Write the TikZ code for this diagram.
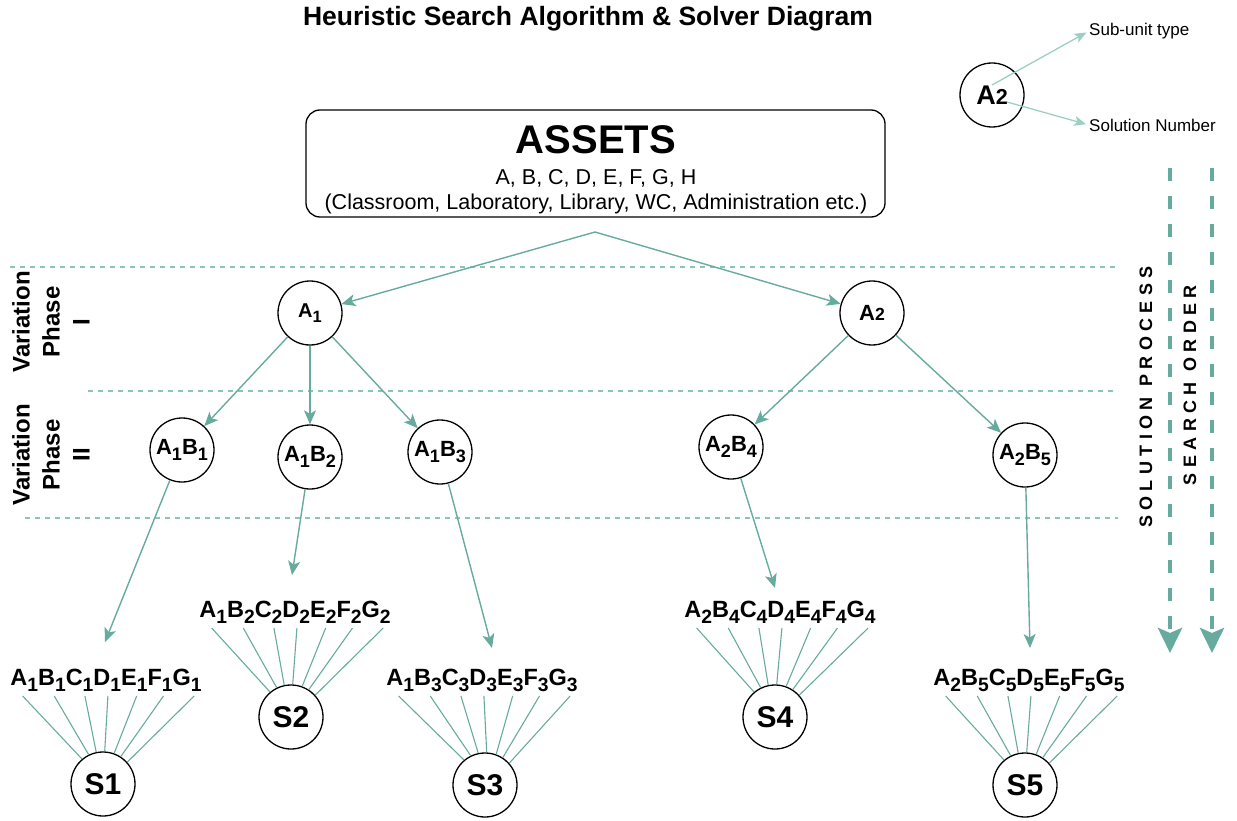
\documentclass[tikz,border=0pt]{standalone}
\usepackage{fontspec}
\setmainfont{Liberation Sans}
\newfontfamily\spaced[LetterSpace=30]{Liberation Sans}
\usetikzlibrary{arrows.meta,calc}
\definecolor{tealA}{HTML}{67AB9F}
\definecolor{tealL}{HTML}{88C4B8}
\definecolor{tealG}{HTML}{9CCFC4}
\newcommand\fs[2]{\fontsize{#1}{#2}\selectfont}
\newcommand\sbs[1]{\raisebox{-0.25em}{\scalebox{0.82}{#1}}}
\newcommand\flatsub[1]{\scalebox{0.8}{#1}}
\newcommand\fan[2]{%
  \foreach \f/\a in {0.065/130,0.23/116,0.39/102,0.51/87,0.66/70,0.80/57,0.96/42}
    {\draw[fanline] ($(#1.west)!\f!(#1.east)+(0,16)$) -- (#2.\a);}}
\begin{document}
\begin{tikzpicture}[x=1pt,y=-1pt,
  circ/.style={circle,draw=black,line width=1.3pt,minimum size=64pt,inner sep=0pt,font=\fs{20}{22}\bfseries},
  bcirc/.style={circ,font=\fs{22}{24}\bfseries},
  scirc/.style={circ,font=\fs{30}{32}\bfseries},
  arr/.style={draw=tealA,line width=1.4pt,-{Stealth[length=14pt,width=12pt,inset=3.5pt]}},
  larr/.style={draw=tealG,line width=1.3pt,-{Stealth[length=12pt,width=10pt,inset=3pt]}},
  fanline/.style={draw=tealA,line width=1.1pt},
  sol/.style={inner sep=0pt,font=\fs{23.5}{26}\bfseries},
  sep/.style={draw=tealL,line width=1.1pt,dash pattern=on 5pt off 5pt},
  bigarr/.style={draw=tealA,line width=4.5pt,dash pattern=on 13pt off 15pt,-{Stealth[length=25pt,width=24pt,inset=5pt]}},
  phase/.style={align=center,rotate=90,font=\fs{24}{30}\bfseries,inner sep=0pt},
  side/.style={rotate=90,font=\fs{18}{20}\spaced\bfseries,inner sep=0pt}
]
\useasboundingbox (0,0) rectangle (1237,821);

% title
\node[font=\fs{26.5}{30}\bfseries] (title) at (588,19) {Heuristic Search Algorithm \& Solver Diagram};

% assets box
\node[draw=black,line width=1.3pt,rounded corners=14pt,minimum width=579pt,minimum height=107pt] (assets) at (595.5,163.5) {};
\node[font=\fs{40}{44}\bfseries] (assetsT) at (596,140) {ASSETS};
\node[font=\fs{21.5}{24}] (assetsL) at (596,178) {A, B, C, D, E, F, G, H};
\node[font=\fs{21.5}{24}] (assetsE) at (596,204) {(Classroom, Laboratory, Library, WC, Administration etc.)};
\coordinate (top) at (595,232);

% separators
\draw[sep] (10,267) -- (1118,267);
\draw[sep] (88,391) -- (1118,391);
\draw[sep] (25,518) -- (1118,518);

% phase labels
\node[phase] (ph1) at (51,322) {Variation\\Phase\\I};
\node[phase] (ph2) at (51,455) {Variation\\Phase\\II};

% level 1
\node[circ] (a1) at (310,313) {A\sbs{1}};
\node[bcirc] (a2) at (872,313) {A\flatsub{2}};

% level 2
\node[bcirc] (a1b1) at (182,450) {A\sbs{1}B\sbs{1}};
\node[bcirc] (a1b2) at (310,457) {A\sbs{1}B\sbs{2}};
\node[bcirc] (a1b3) at (440,452) {A\sbs{1}B\sbs{3}};
\node[bcirc] (a2b4) at (731,447) {A\sbs{2}B\sbs{4}};
\node[bcirc] (a2b5) at (1025,455) {A\sbs{2}B\sbs{5}};

\draw[arr] (top) -- (a1);
\draw[arr] (top) -- (a2);
\draw[arr] (a1) -- (a1b1);
\draw[arr] (a1) -- (a1b2);
\draw[arr] (a1) -- (a1b3);
\draw[arr] (a2) -- (a2b4);
\draw[arr] (a2) -- (a2b5);

% solution strings
\node[sol] (t1) at (106,680) {A\sbs{1}B\sbs{1}C\sbs{1}D\sbs{1}E\sbs{1}F\sbs{1}G\sbs{1}};
\node[sol] (t2) at (295,612) {A\sbs{1}B\sbs{2}C\sbs{2}D\sbs{2}E\sbs{2}F\sbs{2}G\sbs{2}};
\node[sol] (t3) at (482,680) {A\sbs{1}B\sbs{3}C\sbs{3}D\sbs{3}E\sbs{3}F\sbs{3}G\sbs{3}};
\node[sol] (t4) at (780,612) {A\sbs{2}B\sbs{4}C\sbs{4}D\sbs{4}E\sbs{4}F\sbs{4}G\sbs{4}};
\node[sol] (t5) at (1029,680) {A\sbs{2}B\sbs{5}C\sbs{5}D\sbs{5}E\sbs{5}F\sbs{5}G\sbs{5}};

\coordinate (e1) at (105,642);
\coordinate (e2) at (292,575);
\coordinate (e3) at (492,648);
\coordinate (e4) at (775,588);
\coordinate (e5) at (1030,648);
\draw[arr] (a1b1) -- (e1);
\draw[arr] (a1b2) -- (e2);
\draw[arr] (a1b3) -- (e3);
\draw[arr] (a2b4) -- (e4);
\draw[arr] (a2b5) -- (e5);

% solution circles
\node[scirc] (s1) at (103,784) {S1};
\node[scirc] (s2) at (291,717) {S2};
\node[scirc] (s3) at (485,785) {S3};
\node[scirc] (s4) at (775,717) {S4};
\node[scirc] (s5) at (1025,785) {S5};
\fan{t1}{s1}
\fan{t2}{s2}
\fan{t3}{s3}
\fan{t4}{s4}
\fan{t5}{s5}

% legend
\node[circ,font=\fs{27}{30}\bfseries] (leg) at (992,95) {A\flatsub{2}};
\coordinate (l1) at (992,85);
\coordinate (l2) at (1007,102);
\node[anchor=west,inner sep=0pt,font=\fs{17}{20}] (sub) at (1089,31) {Sub-unit type};
\node[anchor=west,inner sep=0pt,font=\fs{17}{20}] (num) at (1089,125) {Solution Number};
\draw[larr,shorten >=3pt] (l1) -- (sub.west);
\draw[larr,shorten >=3pt] (l2) -- (num.west);

% right side
\node[side] (sp) at (1146,397) {SOLUTION PROCESS};
\node[side] (so) at (1190,385) {SEARCH ORDER};
\coordinate (d1s) at (1170,168);
\coordinate (d1e) at (1170,653);
\coordinate (d2s) at (1212,168);
\coordinate (d2e) at (1212,653);
\draw[bigarr] (d1s) -- (d1e);
\draw[bigarr] (d2s) -- (d2e);
\end{tikzpicture}
\end{document}
